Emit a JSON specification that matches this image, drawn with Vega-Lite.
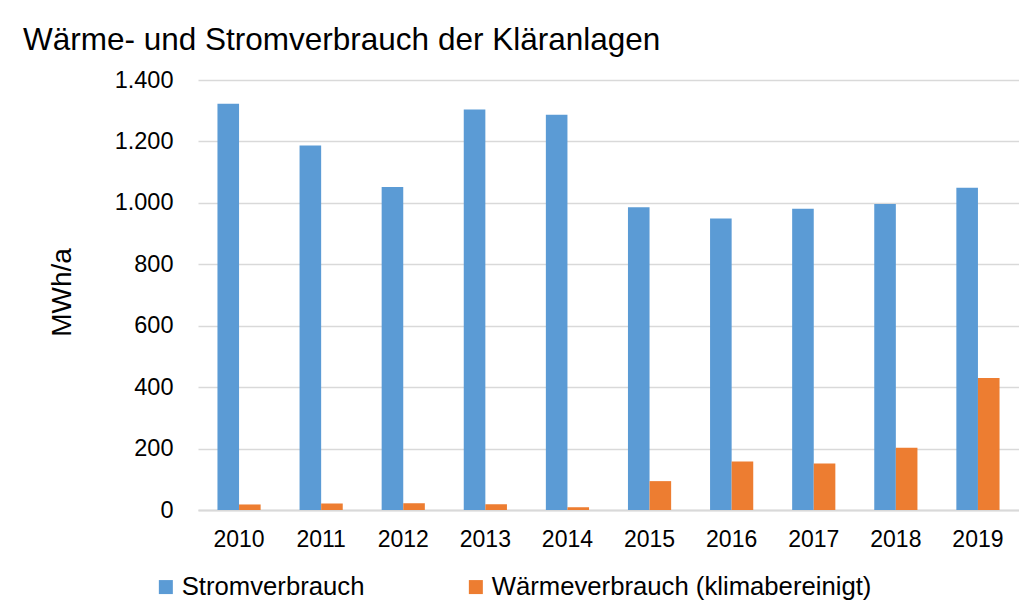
{
  "$schema": "https://vega.github.io/schema/vega-lite/v6.json",
  "width": 821,
  "height": 430,
  "autosize": {"type": "none"},
  "padding": {"left": 198, "top": 80, "right": 0, "bottom": 98},
  "background": "white",
  "config": {
    "font": "Liberation Sans",
    "locale": {"number": {"decimal": ",", "thousands": ".", "grouping": [3], "currency": ["", " €"]}},
    "view": {"stroke": null}
  },
  "title": {
    "text": "Wärme- und Stromverbrauch der Kläranlagen",
    "anchor": "start",
    "frame": "group",
    "dx": -175,
    "offset": -13,
    "baseline": "alphabetic",
    "fontSize": 31.5,
    "fontWeight": "normal",
    "color": "#000000",
    "font": "Liberation Sans"
  },
  "data": {
    "values": [
      {"year": "2010", "series": "Stromverbrauch", "value": 1323},
      {"year": "2011", "series": "Stromverbrauch", "value": 1187},
      {"year": "2012", "series": "Stromverbrauch", "value": 1052},
      {"year": "2013", "series": "Stromverbrauch", "value": 1304},
      {"year": "2014", "series": "Stromverbrauch", "value": 1287},
      {"year": "2015", "series": "Stromverbrauch", "value": 986},
      {"year": "2016", "series": "Stromverbrauch", "value": 949},
      {"year": "2017", "series": "Stromverbrauch", "value": 981},
      {"year": "2018", "series": "Stromverbrauch", "value": 996},
      {"year": "2019", "series": "Stromverbrauch", "value": 1049},
      {"year": "2010", "series": "Wärmeverbrauch (klimabereinigt)", "value": 18},
      {"year": "2011", "series": "Wärmeverbrauch (klimabereinigt)", "value": 21},
      {"year": "2012", "series": "Wärmeverbrauch (klimabereinigt)", "value": 22},
      {"year": "2013", "series": "Wärmeverbrauch (klimabereinigt)", "value": 19},
      {"year": "2014", "series": "Wärmeverbrauch (klimabereinigt)", "value": 9},
      {"year": "2015", "series": "Wärmeverbrauch (klimabereinigt)", "value": 94},
      {"year": "2016", "series": "Wärmeverbrauch (klimabereinigt)", "value": 158},
      {"year": "2017", "series": "Wärmeverbrauch (klimabereinigt)", "value": 151},
      {"year": "2018", "series": "Wärmeverbrauch (klimabereinigt)", "value": 203},
      {"year": "2019", "series": "Wärmeverbrauch (klimabereinigt)", "value": 430}
    ]
  },
  "mark": {"type": "bar"},
  "encoding": {
    "x": {
      "field": "year",
      "type": "ordinal",
      "scale": {"paddingInner": 0.474, "paddingOuter": 0.237},
      "axis": {
        "title": null,
        "labelAngle": 0,
        "labelFontSize": 23,
        "labelColor": "#000000",
        "labelPadding": 18,
        "ticks": false,
        "tickSize": 0,
        "domain": true,
        "domainColor": "#d9d9d9",
        "domainWidth": 2,
        "grid": false
      }
    },
    "xOffset": {
      "field": "series",
      "type": "nominal",
      "scale": {"paddingInner": 0, "paddingOuter": 0}
    },
    "y": {
      "field": "value",
      "type": "quantitative",
      "scale": {"domain": [0, 1400], "nice": false},
      "axis": {
        "title": "MWh/a",
        "titleFontSize": 28,
        "titleFontWeight": "normal",
        "titleColor": "#000000",
        "titleX": -136,
        "titleY": 212,
        "titleAlign": "center",
        "titleBaseline": "middle",
        "titleAngle": 270,
        "values": [0, 200, 400, 600, 800, 1000, 1200, 1400],
        "format": ",d",
        "labelFontSize": 23.5,
        "labelColor": "#000000",
        "labelPadding": 25,
        "ticks": false,
        "tickSize": 0,
        "domain": false,
        "grid": true,
        "gridColor": "#d9d9d9",
        "gridWidth": 1.3
      }
    },
    "color": {
      "field": "series",
      "type": "nominal",
      "scale": {
        "domain": ["Stromverbrauch", "Wärmeverbrauch (klimabereinigt)"],
        "range": ["#5B9BD5", "#ED7D31"]
      },
      "legend": {
        "title": null,
        "orient": "none",
        "direction": "horizontal",
        "legendX": -45,
        "legendY": 494,
        "symbolType": "square",
        "symbolSize": 196,
        "symbolStrokeWidth": 0,
        "labelFontSize": 25.7,
        "labelColor": "#000000",
        "labelOffset": 3,
        "columnPadding": 98,
        "labelLimit": 600
      }
    }
  }
}
